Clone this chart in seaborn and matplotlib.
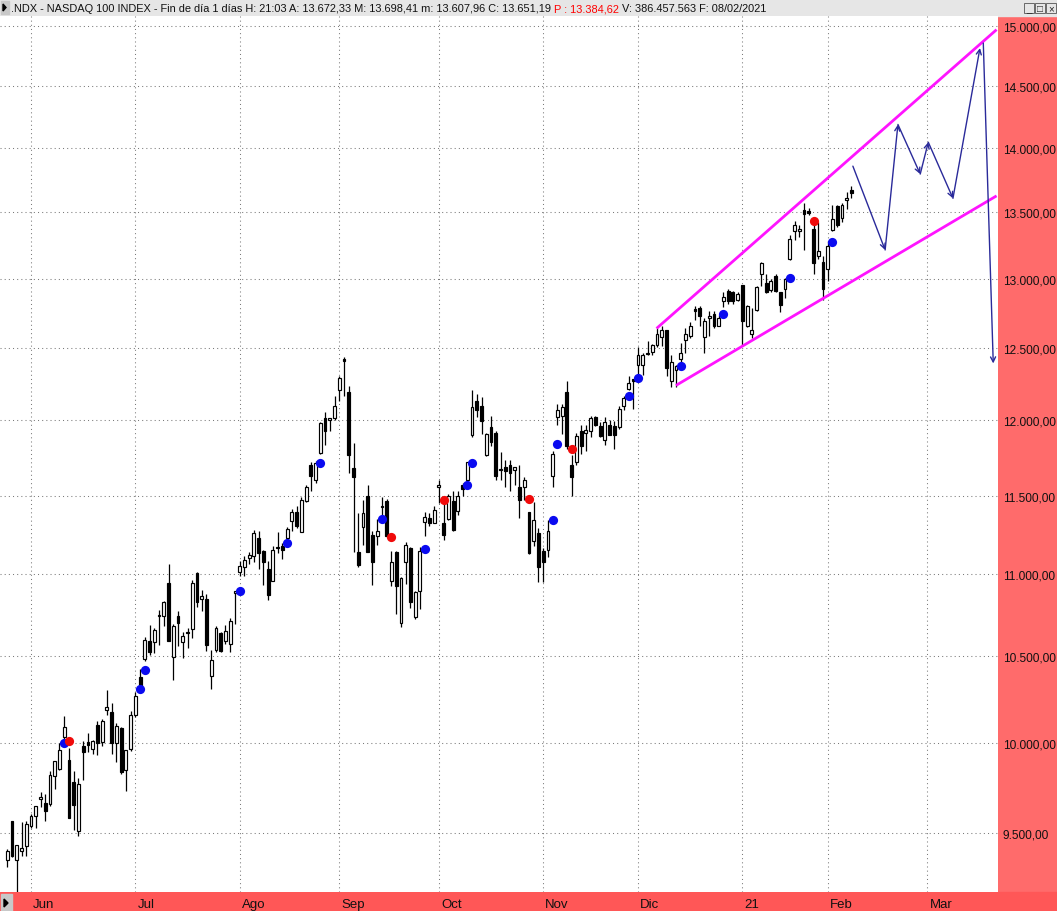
import numpy as np
import pandas as pd
import matplotlib
matplotlib.use("Agg")
import matplotlib.pyplot as plt
import seaborn as sns
from matplotlib.patches import Rectangle, Polygon
from matplotlib.ticker import FixedLocator, FuncFormatter, NullLocator

# daily OHLC of the NASDAQ 100, 22-may-2020 .. 08-feb-2021
opens = [9357, 9566, 9357, 9405, 9432, 9539, 9594, 9686, 9665, 9659,
         9814, 9852, 10032, 9903, 9780, 9512, 9982, 10004, 9965, 10100,
         10004, 10187, 10175, 10000, 10084, 9847, 9965, 10158, 10379, 10486,
         10594, 10588, 10740, 10744, 10947, 10498, 10745, 10588, 10648, 10666,
         11010, 10848, 10848, 10385, 10535, 10642, 10594, 10576, 10885, 11016,
         11047, 11103, 11116, 11230, 11147, 11034, 10960, 11170, 11179, 11230,
         11338, 11396, 11268, 11468, 11704, 11605, 11783, 12013, 12006, 12013,
         12205, 12421, 12191, 11684, 11141, 11300, 11500, 11249, 11243, 11435,
         11468, 10960, 11141, 10702, 11078, 11166, 10738, 10898, 11332, 11358,
         11326, 11553, 11326, 11351, 11468, 11403, 11566, 11605, 11898, 12129,
         12101, 11770, 11952, 11912, 11677, 11690, 11704, 11670, 11559, 11553,
         11396, 11211, 11262, 11147, 11154, 11625, 12020, 12033, 12191, 11704,
         11724, 11925, 11912, 11925, 12026, 11959, 11865, 11966, 11959, 11952,
         12101, 12212, 12281, 12379, 12379, 12456, 12477, 12520, 12577, 12627,
         12274, 12344, 12421, 12556, 12584, 12778, 12785, 12577, 12713, 12742,
         12662, 12836, 12909, 12902, 12843, 12953, 12655, 12598, 12771, 13033,
         12967, 12916, 13019, 12902, 12924, 13145, 13356, 13356, 13516, 13508,
         13371, 13168, 13122, 13070, 13364, 13546, 13454, 13592, 13672.33]
highs = [9415, 9566, 9437, 9561, 9566, 9605, 9648, 9724, 9713, 9841,
         9897, 9998, 10152, 9971, 9841, 9802, 10010, 10055, 10016, 10123,
         10135, 10303, 10228, 10112, 10089, 9960, 10181, 10291, 10427, 10617,
         10690, 10672, 10781, 10836, 11066, 10696, 10770, 10648, 10672, 10966,
         11016, 10904, 10879, 10535, 10684, 10648, 10690, 10732, 10898, 11085,
         11116, 11141, 11281, 11275, 11154, 11085, 11179, 11268, 11198, 11300,
         11416, 11435, 11494, 11572, 11724, 11730, 11992, 12060, 12013, 12164,
         12302, 12435, 12233, 11845, 11390, 11474, 11566, 11275, 11351, 11494,
         11481, 11147, 11147, 10985, 11204, 11172, 10898, 11172, 11396, 11390,
         11435, 11605, 11474, 11513, 11533, 11527, 11579, 11724, 12205, 12184,
         12157, 11918, 12033, 11925, 11790, 11737, 11737, 11690, 11704, 11619,
         11396, 11461, 11294, 11166, 11345, 11791, 12115, 12115, 12268, 11764,
         11912, 11966, 11966, 12033, 12033, 11992, 12020, 12006, 11999, 12095,
         12170, 12302, 12281, 12506, 12470, 12548, 12527, 12641, 12655, 12627,
         12449, 12379, 12534, 12641, 12684, 12799, 12799, 12713, 12764, 12764,
         12735, 12902, 12924, 12909, 12902, 12953, 12807, 12785, 12946, 13122,
         13033, 12997, 13033, 12902, 13004, 13325, 13431, 13401, 13570, 13531,
         13401, 13424, 13168, 13281, 13554, 13554, 13570, 13654, 13698.41]
lows = [9320, 9374, 9190, 9379, 9379, 9528, 9528, 9643, 9566, 9648,
        9741, 9846, 10004, 9582, 9517, 9485, 9791, 9948, 9937, 9931,
        9982, 10158, 9937, 9891, 9824, 9730, 9954, 10146, 10309, 10475,
        10505, 10517, 10570, 10684, 10594, 10362, 10560, 10492, 10552, 10612,
        10799, 10775, 10529, 10309, 10523, 10523, 10576, 10523, 10696, 10991,
        10991, 11066, 11078, 11034, 10935, 10842, 10960, 11135, 11097, 11204,
        11275, 11294, 11268, 11461, 11533, 11579, 11777, 11831, 11925, 12006,
        12129, 12170, 11651, 11141, 11047, 11185, 11141, 10935, 11185, 11351,
        11236, 10929, 10757, 10678, 10941, 10793, 10726, 10787, 11243, 11306,
        11326, 11455, 11217, 11345, 11275, 11377, 11500, 11592, 11885, 12020,
        11905, 11763, 11825, 11605, 11605, 11559, 11527, 11566, 11358, 11474,
        11128, 11179, 10954, 10954, 11109, 11559, 11966, 11905, 11810, 11500,
        11704, 11777, 11797, 11885, 11959, 11885, 11831, 11898, 11810, 11945,
        12074, 12205, 12081, 12302, 12309, 12449, 12449, 12506, 12513, 12302,
        12226, 12226, 12393, 12463, 12570, 12705, 12655, 12470, 12584, 12641,
        12655, 12792, 12814, 12814, 12836, 12520, 12648, 12570, 12764, 12946,
        12895, 12902, 12902, 12756, 12858, 13137, 13288, 13310, 13212, 13477,
        13033, 13145, 12843, 12982, 13356, 13386, 13424, 13523, 13607.96]
closes = [9404, 9379, 9437, 9421, 9550, 9593, 9648, 9697, 9621, 9819,
          9897, 9959, 10089, 9582, 9654, 9769, 9948, 9988, 10010, 10000,
          10123, 10204, 10000, 10095, 9835, 9960, 10158, 10268, 10326, 10600,
          10523, 10660, 10750, 10830, 10594, 10684, 10700, 10624, 10642, 10947,
          10830, 10866, 10570, 10480, 10672, 10529, 10654, 10714, 10898, 11053,
          11091, 11122, 11262, 11135, 11078, 10873, 11154, 11166, 11154, 11287,
          11396, 11306, 11474, 11553, 11625, 11717, 11985, 11925, 12013, 12101,
          12288, 12407, 11770, 11619, 11059, 11390, 11141, 11078, 11275, 11429,
          11243, 11078, 10929, 10979, 11185, 10830, 10891, 11147, 11364, 11326,
          11409, 11572, 11249, 11500, 11281, 11500, 11540, 11724, 12088, 12074,
          11998, 11905, 11851, 11631, 11670, 11664, 11651, 11690, 11474, 11599,
          11135, 11345, 11047, 11078, 11275, 11777, 12074, 12088, 11825, 11619,
          11892, 11825, 11938, 12013, 11966, 11892, 11986, 11898, 11898, 12081,
          12150, 12254, 12274, 12449, 12449, 12470, 12520, 12598, 12627, 12358,
          12400, 12372, 12463, 12598, 12655, 12764, 12727, 12691, 12727, 12655,
          12713, 12865, 12836, 12836, 12887, 12691, 12800, 12627, 12938, 13115,
          12902, 12982, 12909, 12807, 12997, 13295, 13401, 13371, 13485, 13493,
          13115, 13206, 12924, 13242, 13446, 13401, 13554, 13607, 13651.19]

month_labels = ["Jun", "Jul", "Ago", "Sep", "Oct", "Nov", "Dic", "21", "Feb", "Mar"]
month_pos = [5, 27, 49, 70, 91, 113, 133, 155, 173, 194]
price_levels = [9500, 10000, 10500, 11000, 11500, 12000, 12500, 13000,
                13500, 14000, 14500, 15000]

# signal dots (bar index, price)
buy_idx = [12, 28, 29, 49, 59, 66, 79, 88, 97, 98, 115, 116, 131, 133, 142, 151, 165, 174]
buy_val = [10000, 10309, 10420, 10897, 11198, 11717, 11351, 11160, 11572, 11717,
           11345, 11838, 12164, 12288, 12372, 12742, 13004, 13273]
sell_idx = [13, 81, 92, 110, 119, 170]
sell_val = [10010, 11236, 11474, 11481, 11810, 13431]

# rising wedge
upper_x = [136.9, 208.6]
upper_y = [12641, 14970]
lower_x = [141.0, 208.6]
lower_y = [12240, 13626]

# projected path
proj_x = [178.3, 185.1, 187.8, 192.5, 194.2, 199.4, 205.1]
proj_y = [13857, 13215, 14188, 13795, 14046, 13607, 14815]
drop_x = [205.8, 207.9]
drop_y = [14857, 12393]

W, H = 1057, 912
sns.set_style("white")
plt.rcParams["font.family"] = ["Liberation Sans", "DejaVu Sans"]

fig = plt.figure(figsize=(W / 100, H / 100), dpi=100)
fig.patch.set_facecolor("white")

# panels around the plot
fig.add_artist(Rectangle((998 / W, 0), (W - 998) / W, (H - 17) / H,
                         transform=fig.transFigure, color="#FF6B6B", zorder=-2))
fig.add_artist(Rectangle((0, 0), 1, (H - 893) / H,
                         transform=fig.transFigure, color="#FF5757", zorder=-1))
fig.add_artist(Rectangle((0, (H - 17) / H), 1, 17 / H,
                         transform=fig.transFigure, color="#E6E6E6", zorder=-1))
fig.add_artist(Rectangle((1 / W, 0), 11 / W, (H - 895) / H,
                         transform=fig.transFigure, color="#C8C8C8", zorder=0))
fig.add_artist(Polygon([[4 / W, 12 / H], [4 / W, 4 / H], [8 / W, 8 / H]],
                       closed=True, transform=fig.transFigure, color="black", zorder=1))
fig.add_artist(Rectangle((1 / W, (H - 15) / H), 8 / W, 13 / H,
                         transform=fig.transFigure, color="#C8C8C8", zorder=0))
fig.add_artist(Polygon([[3 / W, (H - 5) / H], [3 / W, (H - 12) / H], [6 / W, (H - 8.5) / H]],
                       closed=True, transform=fig.transFigure, color="black", zorder=1))
for bx, sym in zip([1029, 1040, 1051], ["_", "□", "×"]):
    fig.add_artist(Rectangle(((bx - 5) / W, (H - 14) / H), 10 / W, 10 / H,
                             transform=fig.transFigure, facecolor="#E6E6E6",
                             edgecolor="#555555", lw=0.6, zorder=0))
    fig.text(bx / W, (H - 9) / H, sym, ha="center", va="center", fontsize=7)

ax = fig.add_axes([0, (H - 893) / H, 998 / W, (893 - 17) / H])
ax.set_facecolor("white")
ax.set_yscale("log")

df = pd.DataFrame({"open": opens, "high": highs, "low": lows, "close": closes})
df["x"] = np.arange(len(df))
df["up"] = df["close"] >= df["open"]
df["bottom"] = df[["open", "close"]].min(axis=1)
df["height"] = (df["close"] - df["open"]).abs().clip(lower=2)

ax.vlines(df["x"], df["low"], df["high"], color="black", lw=0.9, zorder=2)
ax.bar(df["x"], df["height"], bottom=df["bottom"], width=0.6,
       color=np.where(df["up"], "white", "black"), edgecolor="black",
       linewidth=0.85, zorder=3)

sns.scatterplot(x=buy_idx, y=buy_val, color="#0A0AF0", s=44, linewidth=0,
                ax=ax, zorder=5)
sns.scatterplot(x=sell_idx, y=sell_val, color="#F00A0A", s=44, linewidth=0,
                ax=ax, zorder=5)

ax.plot(upper_x, upper_y, color="#FF14FF", lw=2.0, zorder=4, solid_capstyle="butt")
ax.plot(lower_x, lower_y, color="#FF14FF", lw=2.0, zorder=4, solid_capstyle="butt")

arrow_kw = dict(arrowstyle="->", color="#2A2A9A", lw=1.0, shrinkA=0, shrinkB=0,
                mutation_scale=9)
for i in range(len(proj_x) - 1):
    ax.annotate("", xy=(proj_x[i + 1], proj_y[i + 1]), xytext=(proj_x[i], proj_y[i]),
                arrowprops=arrow_kw, zorder=4)
ax.annotate("", xy=(drop_x[1], drop_y[1]), xytext=(drop_x[0], drop_y[0]),
            arrowprops=arrow_kw, zorder=4)

ax.set_xlim(-1.54, 208.9)
ax.set_ylim(9189, 15086)

ax.yaxis.set_major_locator(FixedLocator(price_levels))
ax.yaxis.set_minor_locator(NullLocator())
ax.yaxis.set_major_formatter(FuncFormatter(
    lambda v, p: f"{v:,.2f}".replace(",", "X").replace(".", ",").replace("X", ".")))
ax.yaxis.tick_right()
ax.tick_params(axis="y", length=0, pad=3.5, labelsize=8.6, labelcolor="#111111")

ax.set_xticks(month_pos)
ax.set_xticklabels([])
ax.xaxis.set_minor_locator(NullLocator())
ax.tick_params(axis="x", length=4, width=1, color="#F2F2F2", direction="out")
for pos, lbl in zip(month_pos, month_labels):
    ax.annotate(lbl, xy=(pos, 0), xycoords=("data", "axes fraction"),
                xytext=(1.5, -9), textcoords="offset points",
                ha="left", va="center", fontsize=9.5, color="#111111",
                annotation_clip=False)

ax.grid(True, color="#7A7A7A", linestyle=(0, (1, 3)), lw=0.75)
for s in ax.spines.values():
    s.set_visible(False)

# header line
renderer = fig.canvas.get_renderer()
parts = [(".NDX - NASDAQ 100 INDEX - Fin de día 1 días H: 21:03 A: 13.672,33 "
          "M: 13.698,41 m: 13.607,96 C: 13.651,19 ", "#111111"),
         ("P : 13.384,62", "#FF0000"),
         (" V: 386.457.563 F: 08/02/2021", "#111111")]
xpos = 11
for txt, col in parts:
    t = fig.text(xpos / W, (H - 9) / H, txt, ha="left", va="center",
                 fontsize=7.9, color=col)
    xpos = t.get_window_extent(renderer).x1

fig.savefig("out.png", dpi=100)
